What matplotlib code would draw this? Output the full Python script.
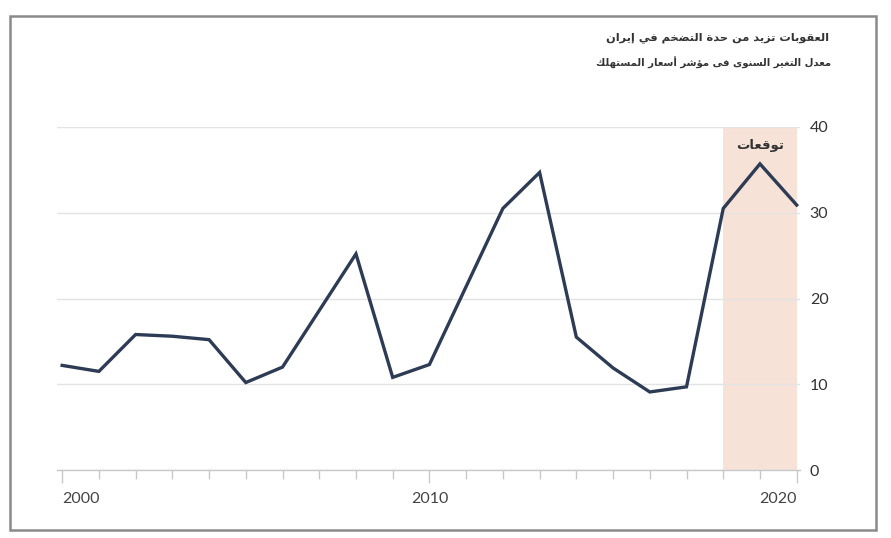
import matplotlib
matplotlib.use("Agg")
import matplotlib.pyplot as plt
from matplotlib.ticker import MultipleLocator, FixedLocator
from matplotlib.patches import Rectangle

# ---------------- data ----------------
years = list(range(2000, 2021))
cpi_change = [12.2, 11.5, 15.8, 15.6, 15.2, 10.2, 12.0, 18.6, 25.2, 10.8,
              12.3, 21.4, 30.5, 34.7, 15.5, 11.9, 9.1, 9.7, 30.5, 35.7, 30.9]
forecast_start, forecast_end = 2018, 2020
x_major = [2000, 2010, 2020]
y_ticks = [0, 10, 20, 30, 40]

title = "العقوبات تزيد من حدة التضخم في إيران"
subtitle = "معدل التغير السنوى فى مؤشر أسعار المستهلك"
forecast_label = "توقعات"

# ---------------- minimal Arabic shaping ----------------
# letter: (isolated, final, initial, medial) ; None for non-left-joining
FORMS = {
    'ا': (0xFE8D, 0xFE8E, None, None), 'أ': (0xFE83, 0xFE84, None, None),
    'إ': (0xFE87, 0xFE88, None, None), 'ؤ': (0xFE85, 0xFE86, None, None),
    'ب': (0xFE8F, 0xFE90, 0xFE91, 0xFE92), 'ة': (0xFE93, 0xFE94, None, None),
    'ت': (0xFE95, 0xFE96, 0xFE97, 0xFE98), 'ح': (0xFEA1, 0xFEA2, 0xFEA3, 0xFEA4),
    'خ': (0xFEA5, 0xFEA6, 0xFEA7, 0xFEA8), 'د': (0xFEA9, 0xFEAA, None, None),
    'ر': (0xFEAD, 0xFEAE, None, None), 'ز': (0xFEAF, 0xFEB0, None, None),
    'س': (0xFEB1, 0xFEB2, 0xFEB3, 0xFEB4), 'ش': (0xFEB5, 0xFEB6, 0xFEB7, 0xFEB8),
    'ض': (0xFEBD, 0xFEBE, 0xFEBF, 0xFEC0), 'ع': (0xFEC9, 0xFECA, 0xFECB, 0xFECC),
    'غ': (0xFECD, 0xFECE, 0xFECF, 0xFED0), 'ف': (0xFED1, 0xFED2, 0xFED3, 0xFED4),
    'ق': (0xFED5, 0xFED6, 0xFED7, 0xFED8), 'ك': (0xFED9, 0xFEDA, 0xFEDB, 0xFEDC),
    'ل': (0xFEDD, 0xFEDE, 0xFEDF, 0xFEE0), 'م': (0xFEE1, 0xFEE2, 0xFEE3, 0xFEE4),
    'ن': (0xFEE5, 0xFEE6, 0xFEE7, 0xFEE8), 'ه': (0xFEE9, 0xFEEA, 0xFEEB, 0xFEEC),
    'و': (0xFEED, 0xFEEE, None, None), 'ى': (0xFEEF, 0xFEF0, None, None),
    'ي': (0xFEF1, 0xFEF2, 0xFEF3, 0xFEF4),
}


def shape(text):
    out = []
    n = len(text)
    for i, ch in enumerate(text):
        if ch not in FORMS:
            out.append(ch)
            continue
        iso, fin, ini, med = FORMS[ch]
        prev = text[i - 1] if i > 0 else None
        nxt = text[i + 1] if i < n - 1 else None
        jp = prev in FORMS and FORMS[prev][2] is not None
        jn = ini is not None and nxt in FORMS
        if jp and jn:
            code = med
        elif jp:
            code = fin
        elif jn:
            code = ini
        else:
            code = iso
        out.append(chr(code))
    return "".join(out)[::-1]


# ---------------- figure ----------------
fig = plt.figure(figsize=(8.91, 5.38), dpi=100)
fig.patch.set_facecolor("white")

W, H = 891, 538
ax = fig.add_axes([57 / W, 1 - 470 / H, (800 - 57) / W, (470 - 127) / H])

ax.axvspan(forecast_start, forecast_end, color="#f7e2d8", zorder=0, lw=0)
ax.plot(years, cpi_change, color="#2e3b55", lw=2.4, solid_joinstyle="miter", zorder=3)

ax.set_xlim(1999.86, 2020.09)
ax.set_ylim(0, 40)

ax.yaxis.set_major_locator(FixedLocator(y_ticks))
ax.yaxis.tick_right()
ax.grid(axis="y", color="#e3e3e3", lw=1, zorder=1)
ax.tick_params(axis="y", length=0, pad=7, labelsize=11.5, labelcolor="#333333")

ax.xaxis.set_major_locator(FixedLocator(x_major))
ax.xaxis.set_minor_locator(MultipleLocator(1))
ax.tick_params(axis="x", which="major", length=9.6, width=1, color="#c8c8c8",
               pad=6, labelsize=11.5, labelcolor="#444444")
ax.tick_params(axis="x", which="minor", length=6.7, width=1, color="#c8c8c8")

for s in ["top", "left", "right"]:
    ax.spines[s].set_visible(False)
ax.spines["bottom"].set_color("#c8c8c8")
ax.spines["bottom"].set_linewidth(1)

for lbl in ax.get_xticklabels() + ax.get_yticklabels():
    lbl.set_family("Lato")
xl = ax.get_xticklabels()
xl[0].set_horizontalalignment("left")
xl[-1].set_horizontalalignment("right")

ax.text((forecast_start + forecast_end) / 2, 37.8, shape(forecast_label),
        ha="center", va="center", fontsize=9.5, fontweight="bold",
        color="#333333", family="DejaVu Sans")

fig.text(829 / W, 1 - 38 / H, shape(title), ha="right", va="center",
         fontsize=8.2, fontweight="bold", color="#333333", family="DejaVu Sans")
fig.text(831 / W, 1 - 63 / H, shape(subtitle), ha="right", va="center",
         fontsize=7.3, fontweight="bold", color="#333333", family="DejaVu Sans")

fig.add_artist(Rectangle((10 / W, 1 - 530 / H), (876 - 10) / W, (530 - 16) / H,
                         transform=fig.transFigure, fill=False,
                         edgecolor="#8a8a8a", lw=1.8))

fig.savefig("out.png", dpi=100)
